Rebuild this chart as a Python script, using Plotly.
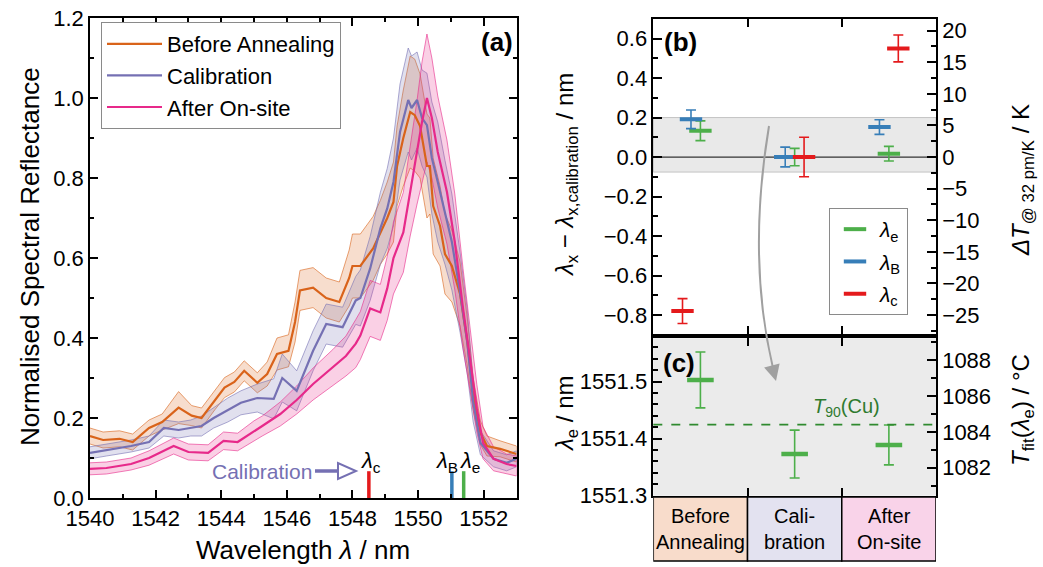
import plotly.graph_objects as go

# ---------------- data: panel (a) spectra ----------------
wl_before = [1540.0, 1540.4, 1540.9, 1541.3, 1541.8, 1542.2, 1542.7, 1543.1, 1543.4, 1543.8,
             1544.1, 1544.4, 1544.7, 1545.1, 1545.4, 1545.7, 1546.05, 1546.25, 1546.4, 1546.8,
             1547.2, 1547.6, 1547.9, 1548.0, 1548.24, 1548.63, 1548.85, 1549.06, 1549.25, 1549.36,
             1549.55, 1549.76, 1549.9, 1550.06, 1550.27, 1550.36, 1550.46, 1550.67, 1550.82, 1551.03,
             1551.28, 1551.5, 1551.68, 1551.9, 1552.1, 1552.5, 1553.0]
r_before = [0.155, 0.145, 0.148, 0.14, 0.175, 0.19, 0.226, 0.206, 0.2, 0.245,
            0.276, 0.29, 0.318, 0.288, 0.31, 0.36, 0.368, 0.44, 0.519, 0.526,
            0.50, 0.49, 0.55, 0.58, 0.58, 0.624, 0.664, 0.70, 0.74, 0.83,
            0.90, 0.965, 0.957, 0.93, 0.83, 0.83, 0.73, 0.68, 0.61, 0.58,
            0.51, 0.39, 0.26, 0.163, 0.13, 0.123, 0.11]
sd_before = [0.02, 0.02, 0.02, 0.02, 0.02, 0.02, 0.04, 0.025, 0.025, 0.025,
             0.025, 0.025, 0.025, 0.025, 0.03, 0.04, 0.04, 0.05, 0.05, 0.05,
             0.05, 0.05, 0.07, 0.08, 0.08, 0.08, 0.08, 0.09, 0.1, 0.1,
             0.12, 0.14, 0.14, 0.13, 0.13, 0.12, 0.12, 0.1, 0.1, 0.09,
             0.08, 0.06, 0.04, 0.03, 0.025, 0.02, 0.02]

wl_calib = [1540.0, 1540.5, 1541.25, 1541.8, 1542.25, 1542.7, 1543.07, 1543.4, 1543.77, 1544.2,
            1544.6, 1545.1, 1545.6, 1545.86, 1546.3, 1546.8, 1547.2, 1547.7, 1548.1, 1548.24,
            1548.54, 1548.85, 1549.06, 1549.25, 1549.45, 1549.7, 1549.8, 1549.97, 1550.12, 1550.27,
            1550.42, 1550.6, 1550.82, 1551.03, 1551.28, 1551.5, 1551.68, 1551.9, 1552.3, 1552.7,
            1553.0]
r_calib = [0.113, 0.12, 0.13, 0.14, 0.175, 0.17, 0.175, 0.18, 0.20, 0.22,
           0.238, 0.25, 0.248, 0.30, 0.268, 0.368, 0.435, 0.427, 0.494, 0.50,
           0.574, 0.674, 0.724, 0.79, 0.915, 0.995, 0.975, 0.995, 0.95, 0.932,
           0.85, 0.79, 0.714, 0.64, 0.514, 0.39, 0.24, 0.138, 0.098, 0.088,
           0.098]
sd_calib = [0.015, 0.015, 0.015, 0.015, 0.02, 0.02, 0.02, 0.025, 0.025, 0.03,
            0.03, 0.035, 0.05, 0.06, 0.05, 0.05, 0.05, 0.05, 0.06, 0.07,
            0.08, 0.09, 0.1, 0.11, 0.12, 0.13, 0.13, 0.12, 0.12, 0.13,
            0.14, 0.15, 0.13, 0.12, 0.1, 0.08, 0.05, 0.03, 0.02, 0.02,
            0.02]

wl_after = [1540.0, 1540.5, 1541.25, 1541.8, 1542.55, 1543.0, 1543.6, 1544.07, 1544.5, 1545.0,
            1545.25, 1545.8, 1546.3, 1546.8, 1547.4, 1547.8, 1548.1, 1548.24, 1548.54, 1548.85,
            1549.06, 1549.25, 1549.55, 1549.76, 1549.97, 1550.12, 1550.27, 1550.42, 1550.6, 1550.88,
            1551.12, 1551.37, 1551.58, 1551.79, 1551.98, 1552.3, 1552.7, 1553.0]
r_after = [0.073, 0.075, 0.085, 0.10, 0.13, 0.115, 0.113, 0.143, 0.14, 0.168,
           0.18, 0.21, 0.245, 0.285, 0.326, 0.355, 0.386, 0.406, 0.474, 0.464,
           0.524, 0.60, 0.664, 0.765, 0.865, 0.94, 1.0, 0.95, 0.865, 0.765,
           0.64, 0.474, 0.35, 0.224, 0.138, 0.098, 0.085, 0.08]
sd_after = [0.015, 0.015, 0.015, 0.018, 0.02, 0.02, 0.02, 0.022, 0.022, 0.025,
            0.025, 0.03, 0.035, 0.04, 0.045, 0.05, 0.06, 0.06, 0.07, 0.07,
            0.08, 0.09, 0.1, 0.11, 0.13, 0.15, 0.16, 0.15, 0.14, 0.13,
            0.12, 0.1, 0.08, 0.06, 0.04, 0.03, 0.025, 0.025]

series_names = ["Before Annealing", "Calibration", "After On-site"]

# calibration feature wavelengths marked in (a)
calib_marks_wl = [1548.50, 1551.03, 1551.39]
calib_mark_height = 0.067

# ---------------- data: panels (b) and (c) ----------------
categories = ["Before<br>Annealing", "Cali-<br>bration", "After<br>On-site"]
d_lambda_e = [0.133, 0.0, 0.017]
err_lambda_e = [0.05, 0.044, 0.037]
d_lambda_B = [0.191, 0.0, 0.152]
err_lambda_B = [0.047, 0.05, 0.037]
d_lambda_c = [-0.78, 0.0, 0.55]
err_lambda_c = [0.063, 0.10, 0.068]
band_b = [-0.076, 0.2]
pm_per_K = 32.0

lambda_e_abs = [1551.503, 1551.373, 1551.389]
err_lambda_e_abs = [0.049, 0.042, 0.035]
t90_cu_lambda = 1551.4246
tfit_at_bottom = [1551.3, 1080.44]
tfit_at_top = [1551.576, 1089.22]

# ---------------- styling ----------------
W, H = 1043, 567
def PX(x):
    return x / W
def PY(y):
    return 1 - y / H

FONT = "Liberation Sans, Arial, sans-serif"
C_ORANGE = "#d9631a"
C_PURPLE = "#7570b3"
C_PINK = "#e7298a"
FILLS = ["rgba(217,99,26,0.22)", "rgba(117,112,179,0.22)", "rgba(231,41,138,0.22)"]
EDGES = ["rgba(217,99,26,0.75)", "rgba(117,112,179,0.75)", "rgba(231,41,138,0.75)"]
C_GREEN = "#4daf4a"
C_BLUE = "#377eb8"
C_RED = "#e41a1c"
MARK_COLORS = [C_RED, C_BLUE, C_GREEN]

# x-offset of each marker inside a category (layout choice)
off_e = [0.0, 0.0, 0.0]
off_B = [-0.1, -0.1, -0.1]
off_c = [-0.19, 0.1, 0.1]

fig = go.Figure()

# ---- panel (a) bands ----
specs = [(wl_before, r_before, sd_before), (wl_calib, r_calib, sd_calib), (wl_after, r_after, sd_after)]
for i, (wl, r, sd) in enumerate(specs):
    up = [a + b for a, b in zip(r, sd)]
    lo = [a - b for a, b in zip(r, sd)]
    fig.add_trace(go.Scatter(
        x=wl + wl[::-1], y=up + lo[::-1], fill="toself", fillcolor=FILLS[i],
        line=dict(color=EDGES[i], width=0.8), mode="lines", showlegend=False,
        hoverinfo="skip", xaxis="x", yaxis="y"))
for i, (wl, r, sd) in enumerate(specs):
    fig.add_trace(go.Scatter(
        x=wl, y=r, mode="lines", name=series_names[i],
        line=dict(color=[C_ORANGE, C_PURPLE, C_PINK][i], width=2.2),
        xaxis="x", yaxis="y", legend="legend"))

# calibration marks
for i, wl in enumerate(calib_marks_wl):
    fig.add_trace(go.Scatter(
        x=[wl, wl], y=[0, calib_mark_height], mode="lines",
        line=dict(color=MARK_COLORS[i], width=3.5), showlegend=False,
        hoverinfo="skip", xaxis="x", yaxis="y"))

# ---- panel (b) ----
cat_idx = list(range(len(categories)))
b_series = [("<i>λ</i><sub>e</sub>", d_lambda_e, err_lambda_e, off_e, C_GREEN),
            ("<i>λ</i><sub>B</sub>", d_lambda_B, err_lambda_B, off_B, C_BLUE),
            ("<i>λ</i><sub>c</sub>", d_lambda_c, err_lambda_c, off_c, C_RED)]
for k, (nm, vals, errs, offs, col) in enumerate(b_series):
    fig.add_trace(go.Scatter(
        x=[c + o for c, o in zip(cat_idx, offs)], y=vals, mode="markers", name=nm,
        marker=dict(symbol="line-ew", size=16, color=col, line=dict(color=col, width=4)),
        error_y=dict(type="data", array=errs, visible=True, color=col, thickness=1.6, width=5),
        xaxis="x2", yaxis="y2", legend="legend2", legendgroup="g%d" % k))
fig.add_trace(go.Scatter(x=[], y=[], xaxis="x2", yaxis="y3", showlegend=False, hoverinfo="skip"))

# ---- panel (c) ----
fig.add_trace(go.Scatter(
    x=cat_idx, y=lambda_e_abs, mode="markers", showlegend=False,
    marker=dict(symbol="line-ew", size=19, color=C_GREEN, line=dict(color=C_GREEN, width=4.5)),
    error_y=dict(type="data", array=err_lambda_e_abs, visible=True, color=C_GREEN, thickness=1.6, width=5),
    xaxis="x3", yaxis="y4"))
fig.add_trace(go.Scatter(x=[], y=[], xaxis="x3", yaxis="y5", showlegend=False, hoverinfo="skip"))

tickfont = dict(family=FONT, size=22, color="black")
axcommon = dict(showline=True, linecolor="black", linewidth=1.5, ticks="inside",
                tickcolor="black", tickwidth=1.5, showgrid=False, zeroline=False,
                tickfont=tickfont, automargin=False)

b_lo = -0.896
b_hi = 0.699

fig.update_layout(
    width=W, height=H, margin=dict(l=0, r=0, t=0, b=0, pad=0, autoexpand=False),
    paper_bgcolor="white", plot_bgcolor="rgba(0,0,0,0)",
    font=dict(family=FONT, color="black"),
    xaxis=dict(domain=[PX(90), PX(516.5)], anchor="y", range=[1540, 1553],
               dtick=2, tick0=1540, ticklen=8, mirror="ticks",
               minor=dict(dtick=1, ticklen=4, ticks="inside", tickcolor="black"), **axcommon),
    yaxis=dict(domain=[PY(498), PY(18)], anchor="x", range=[0, 1.2],
               dtick=0.2, tickformat=".1f", ticklen=8, mirror="ticks",
               minor=dict(dtick=0.1, ticklen=4, ticks="inside", tickcolor="black"), **axcommon),
    xaxis2=dict(domain=[PX(653.3), PX(936)], anchor="y2", range=[-0.5, 2.5],
                tickvals=[0.5, 1.5], showticklabels=False, ticklen=8, mirror="ticks", **axcommon),
    yaxis2=dict(domain=[PY(334), PY(19)], anchor="x2", range=[b_lo, b_hi],
                dtick=0.2, tickformat=".1f", ticklen=9,
                minor=dict(dtick=0.1, ticklen=5, ticks="inside", tickcolor="black"), **axcommon),
    yaxis3=dict(overlaying="y2", side="right", anchor="x2",
                range=[b_lo * 1000 / pm_per_K, b_hi * 1000 / pm_per_K],
                dtick=5, ticklen=9,
                minor=dict(dtick=2.5, ticklen=5, ticks="inside", tickcolor="black"), **axcommon),
    xaxis3=dict(domain=[PX(653.3), PX(936)], anchor="y4", range=[-0.5, 2.5],
                tickvals=[0.5, 1.5], showticklabels=False, ticklen=8, mirror="ticks", **axcommon),
    yaxis4=dict(domain=[PY(495.7), PY(338.3)], anchor="x3",
                range=[tfit_at_bottom[0], tfit_at_top[0]],
                dtick=0.1, tickformat=".1f", ticklen=9,
                minor=dict(dtick=0.02, ticklen=5, ticks="inside", tickcolor="black"), **axcommon),
    yaxis5=dict(overlaying="y4", side="right", anchor="x3",
                range=[tfit_at_bottom[1], tfit_at_top[1]],
                dtick=2, ticklen=9,
                minor=dict(dtick=1, ticklen=5, ticks="inside", tickcolor="black"), **axcommon),
    legend=dict(x=PX(101), y=PY(22), xanchor="left", yanchor="top",
                bgcolor="white", bordercolor="#8a8a8a", borderwidth=1,
                font=dict(family=FONT, size=22, color="black"), itemwidth=55,
                tracegroupgap=0),
    legend2=dict(x=PX(829), y=PY(208), xanchor="left", yanchor="top",
                 bgcolor="white", bordercolor="#8a8a8a", borderwidth=1,
                 font=dict(family=FONT, size=21, color="black"), itemwidth=40,
                 tracegroupgap=2),
)

shapes = []
# gray band and zero line in (b)
shapes.append(dict(type="rect", xref="x2 domain", yref="y2", x0=0, x1=1,
                   y0=band_b[0], y1=band_b[1], fillcolor="#e9e9e9",
                   line=dict(color="#c4c4c4", width=1), layer="below"))
shapes.append(dict(type="line", xref="x2 domain", yref="y2", x0=0, x1=1, y0=0, y1=0,
                   line=dict(color="#333333", width=1.2), layer="below"))
# gray background of (c)
shapes.append(dict(type="rect", xref="x3 domain", yref="y4 domain", x0=0, x1=1, y0=0, y1=1,
                   fillcolor="#ebebeb", line=dict(width=0), layer="below"))
# T90(Cu) dashed line
shapes.append(dict(type="line", xref="x3 domain", yref="y4", x0=0, x1=1,
                   y0=t90_cu_lambda, y1=t90_cu_lambda,
                   line=dict(color="#2f8a2f", width=1.6, dash="dash")))
# category row
cat_fills = ["#f8dccb", "#e3e2f0", "#f9d3e9"]
for i in cat_idx:
    shapes.append(dict(type="rect", xref="x3", yref="paper", x0=i - 0.5, x1=i + 0.5,
                       y0=PY(561), y1=PY(497), fillcolor=cat_fills[i],
                       line=dict(color="black", width=1.5)))
# Calibration arrow in (a)
shapes.append(dict(type="line", xref="paper", yref="paper", x0=PX(315), x1=PX(340),
                   y0=PY(471), y1=PY(471), line=dict(color=C_PURPLE, width=3.5)))
shapes.append(dict(type="path", xref="paper", yref="paper",
                   path="M %f,%f L %f,%f L %f,%f Z" % (PX(338), PY(463), PX(338), PY(479), PX(356), PY(471)),
                   fillcolor="white", line=dict(color=C_PURPLE, width=2)))
# curved gray arrow from (b) to (c)
shapes.append(dict(type="path", xref="paper", yref="paper",
                   path="M %f,%f Q %f,%f %f,%f" % (PX(769), PY(126), PX(747), PY(258), PX(773), PY(368)),
                   line=dict(color="#a0a0a0", width=2)))
fig.update_layout(shapes=shapes)

ann = []
def A(x, y, text, size=22, xa="center", ya="middle", color="black", angle=0):
    ann.append(dict(x=PX(x), y=PY(y), xref="paper", yref="paper", text=text, showarrow=False,
                    xanchor=xa, yanchor=ya, textangle=angle,
                    font=dict(family=FONT, size=size, color=color)))

A(30, 257, "Normalised Spectral Reflectance", 26, angle=-90)
A(303, 550, "Wavelength <i>λ</i> / nm", 26)
A(497, 42, "<b>(a)</b>", 26)
A(680, 42, "<b>(b)</b>", 26)
A(679, 363, "<b>(c)</b>", 26)
A(371, 462, "<i>λ</i><sub>c</sub>", 22)
A(447, 462, "<i>λ</i><sub>B</sub>", 22)
A(470, 462, "<i>λ</i><sub>e</sub>", 22)
A(314, 471, "Calibration", 21, xa="right", color=C_PURPLE)
A(846, 422, "<i>T</i><sub>90</sub>(Cu)", 20, ya="bottom", color="#2f7a2f")
A(566, 175, "<i>λ</i><sub>x</sub> − <i>λ</i><sub>x,calibration</sub> / nm", 24, angle=-90)
A(566, 414, "<i>λ</i><sub>e</sub> / nm", 24, angle=-90)
A(1022, 180, "<i>ΔT</i><sub>@ 32 pm/K</sub> / K", 24, angle=-90)
A(1022, 410, "<i>T</i><sub>fit</sub>(<i>λ</i><sub>e</sub>) / °C", 24, angle=-90)
for i, c in enumerate(categories):
    ann.append(dict(x=i, y=PY(529), xref="x3", yref="paper", text=c, showarrow=False,
                    xanchor="center", yanchor="middle",
                    font=dict(family=FONT, size=20, color="black")))
# arrow head of the curved arrow
ann.append(dict(x=PX(776), y=PY(381), xref="paper", yref="paper", text="", showarrow=True,
                ax=-4, ay=-15, arrowhead=2, arrowsize=1.6, arrowwidth=2, arrowcolor="#a0a0a0"))
fig.update_layout(annotations=ann)

fig.write_html("out.html")
